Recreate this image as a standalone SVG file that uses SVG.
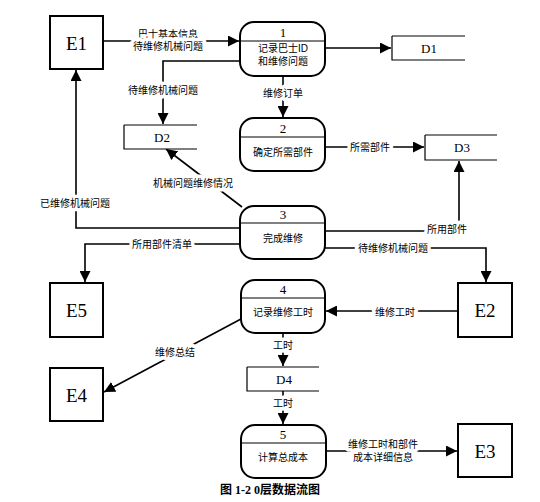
<svg xmlns="http://www.w3.org/2000/svg" width="540" height="502" viewBox="0 0 540 502">
<style>
.ent{fill:#fff;stroke:#000;stroke-width:2}
.proc{fill:#fff;stroke:#000;stroke-width:2}
.div{stroke:#000;stroke-width:1.2}
.st-top{stroke:#808080;stroke-width:2}
.st-side{fill:none;stroke:#000;stroke-width:1.2}
.etxt{font-family:"Liberation Serif",serif;font-size:19px;text-anchor:middle;dominant-baseline:central}
.ntxt{font-family:"Liberation Serif",serif;font-size:13px;text-anchor:middle;dominant-baseline:central}
.ptxt{font-family:"Liberation Sans","Noto Sans CJK SC",sans-serif;font-size:10px;text-anchor:middle;dominant-baseline:central}
.lbl{font-family:"Liberation Sans","Noto Sans CJK SC",sans-serif;font-size:10px;text-anchor:middle;dominant-baseline:central;stroke:#fff;stroke-width:7;stroke-linejoin:round;paint-order:stroke;fill:#000}
.con{fill:none;stroke:#000;stroke-width:1.6;marker-end:url(#arr)}
.cap{font-family:"Liberation Serif","Noto Sans CJK SC",serif;font-size:12px;font-weight:bold;text-anchor:middle;dominant-baseline:central}
</style>
<defs>
<marker id="arr" markerUnits="userSpaceOnUse" markerWidth="11" markerHeight="11" viewBox="0 0 10 10" refX="10" refY="5" orient="auto">
<path d="M0,0 L10,5 L0,10 z" fill="#000"/>
</marker>
</defs>
<rect width="540" height="502" fill="#fff"/>

<g id="connectors">
<path class="con" d="M103,41 H239"/>
<path class="con" d="M325,48 H391"/>
<path class="con" d="M240,61 H163 V124"/>
<path class="con" d="M283,76 V117"/>
<path class="con" d="M325,147 H424"/>
<path class="con" d="M242,207 L166,149"/>
<path class="con" d="M240,228 H76 V70"/>
<path class="con" d="M240,244 H85 V282"/>
<path class="con" d="M325,231 H459 V161"/>
<path class="con" d="M325,248 H486 V282"/>
<path class="con" d="M458,311 H326"/>
<path class="con" d="M283,333 V366"/>
<path class="con" d="M283,391 V424"/>
<path class="con" d="M241,319 L104,392"/>
<path class="con" d="M325,451 H457"/>
</g>

<g id="labels">
<text class="lbl" x="168" y="34">巴士基本信息</text>
<text class="lbl" x="168" y="46">待维修机械问题</text>
<text class="lbl" x="163" y="90">待维修机械问题</text>
<text class="lbl" x="283" y="93">维修订单</text>
<text class="lbl" x="370" y="147">所需部件</text>
<text class="lbl" x="193" y="183">机械问题维修情况</text>
<text class="lbl" x="75" y="203">已维修机械问题</text>
<text class="lbl" x="162" y="244">所用部件清单</text>
<text class="lbl" x="447" y="229">所用部件</text>
<text class="lbl" x="393" y="248">待维修机械问题</text>
<text class="lbl" x="395" y="312">维修工时</text>
<text class="lbl" x="283" y="345">工时</text>
<text class="lbl" x="283" y="403">工时</text>
<text class="lbl" x="175" y="352">维修总结</text>
<text class="lbl" x="383" y="444">维修工时和部件</text>
<text class="lbl" x="383" y="457">成本详细信息</text>
</g>

<g id="E1"><rect class="ent" x="50" y="16" width="53" height="53"/><text class="etxt" x="76.5" y="43">E1</text></g>
<g id="E2"><rect class="ent" x="458" y="283" width="54" height="54"/><text class="etxt" x="485" y="310">E2</text></g>
<g id="E3"><rect class="ent" x="458" y="424" width="54" height="53"/><text class="etxt" x="485" y="451">E3</text></g>
<g id="E4"><rect class="ent" x="50" y="368" width="53" height="53"/><text class="etxt" x="76.5" y="395">E4</text></g>
<g id="E5"><rect class="ent" x="50" y="283" width="53" height="54"/><text class="etxt" x="76.5" y="310">E5</text></g>

<g id="P1"><rect class="proc" x="240" y="22" width="85" height="54" rx="14"/><line class="div" x1="240" y1="41" x2="325" y2="41"/><text class="ntxt" x="283" y="32">1</text><text class="ptxt" x="283" y="48">记录巴士ID</text><text class="ptxt" x="283" y="61">和维修问题</text></g>
<g id="P2"><rect class="proc" x="240" y="118" width="85" height="53" rx="14"/><line class="div" x1="240" y1="137" x2="325" y2="137"/><text class="ntxt" x="283" y="128">2</text><text class="ptxt" x="283" y="152">确定所需部件</text></g>
<g id="P3"><rect class="proc" x="240" y="206" width="85" height="53" rx="14"/><line class="div" x1="240" y1="223" x2="325" y2="223"/><text class="ntxt" x="283" y="214">3</text><text class="ptxt" x="283" y="238">完成维修</text></g>
<g id="P4"><rect class="proc" x="241" y="280" width="84" height="53" rx="14"/><line class="div" x1="241" y1="298" x2="325" y2="298"/><text class="ntxt" x="283" y="289">4</text><text class="ptxt" x="283" y="312">记录维修工时</text></g>
<g id="P5"><rect class="proc" x="241" y="425" width="85" height="53" rx="14"/><line class="div" x1="241" y1="443" x2="326" y2="443"/><text class="ntxt" x="283" y="434">5</text><text class="ptxt" x="283" y="457">计算总成本</text></g>

<g id="D1"><rect x="392" y="36" width="73" height="24" fill="#fff"/><line class="st-top" x1="392" y1="36" x2="465" y2="36"/><path class="st-side" d="M392,36 V60 H465"/><text class="ntxt" x="429" y="48">D1</text></g>
<g id="D2"><rect x="124" y="125" width="73" height="24" fill="#fff"/><line class="st-top" x1="124" y1="125" x2="197" y2="125"/><path class="st-side" d="M124,125 V149 H197"/><text class="ntxt" x="162" y="137">D2</text></g>
<g id="D3"><rect x="425" y="135" width="72" height="25" fill="#fff"/><line class="st-top" x1="425" y1="135" x2="497" y2="135"/><path class="st-side" d="M425,135 V160 H497"/><text class="ntxt" x="462" y="147">D3</text></g>
<g id="D4"><rect x="247" y="367" width="72" height="24" fill="#fff"/><line class="st-top" x1="247" y1="367" x2="319" y2="367"/><path class="st-side" d="M247,367 V391 H319"/><text class="ntxt" x="284" y="379">D4</text></g>

<text class="cap" x="270" y="490">图 1-2 0层数据流图</text>
</svg>
